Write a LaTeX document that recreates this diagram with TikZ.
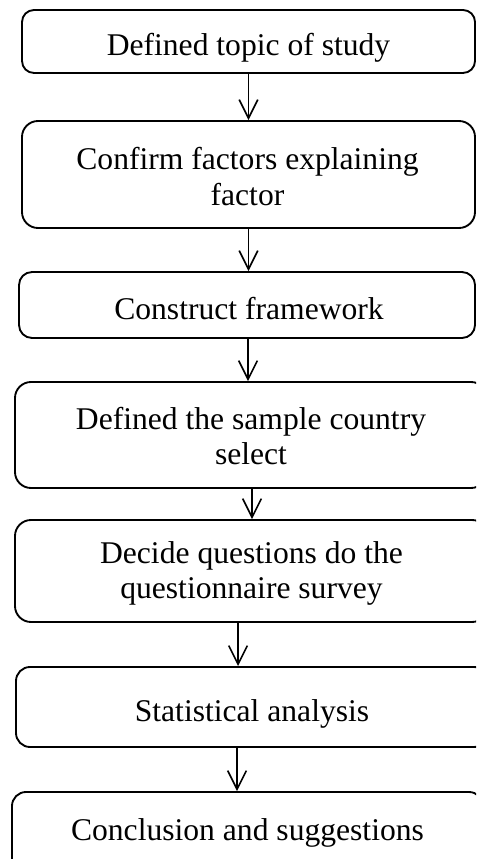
\documentclass[tikz,border=0pt]{standalone}
\usepackage{fontspec}
\setmainfont{Liberation Serif}
\usetikzlibrary{arrows.meta}

\tikzset{
  stepbox/.style={draw, line width=1.4pt, rounded corners=#1, inner sep=0pt},
  steptext/.style={anchor=base, align=center, inner sep=0pt, font=\fontsize{23.7}{26.25}\selectfont},
  flowarrow/.style={line width=1.2pt, -{Straight Barb[length=14pt,width=14pt]}},
}

\begin{document}
\begin{tikzpicture}[x=0.75pt,y=0.75pt,yscale=-1,xscale=1]
\useasboundingbox (0,0) rectangle (476,859);
\clip (0,0) rectangle (476,859);

%Shape: Rounded Rectangles
\node[stepbox=9pt, minimum width=339.75pt, minimum height=47.25pt] (b1) at (248.5,41.5) {};
\node[stepbox=12pt, minimum width=339.75pt, minimum height=80.25pt] (b2) at (248.5,174.5) {};
\node[stepbox=9.75pt, minimum width=342pt, minimum height=49.5pt] (b3) at (247,305) {};
\node[stepbox=12pt, minimum width=354pt, minimum height=79.5pt] (b4) at (251,435) {};
\node[stepbox=12pt, minimum width=354.75pt, minimum height=76.5pt] (b5) at (251.5,571) {};
\node[stepbox=10.5pt, minimum width=354pt, minimum height=60pt] (b6) at (252,707) {};
\node[stepbox=10.5pt, minimum width=353.25pt, minimum height=62.25pt] (b7) at (247.5,833.5) {};

%Straight Lines
\draw[flowarrow] (b1.south) -- (b1.south |- b2.north);
\draw[flowarrow] (b2.south) -- (b2.south |- b3.north);
\draw[flowarrow] ([xshift=0.75pt]b3.south) -- ([xshift=0.75pt]b3.south |- b4.north);
\draw[flowarrow] ([xshift=0.75pt]b4.south) -- ([xshift=0.75pt]b4.south |- b5.north);
\draw[flowarrow] ([xshift=-10.1pt]b5.south) -- ([xshift=-10.1pt]b5.south |- b6.north);
\draw[flowarrow] ([xshift=-11.25pt]b6.south) -- ([xshift=-11.25pt]b6.south |- b7.north);

% Text Node (base = last line)
\node[steptext] (t1) at (248.5,56) {Defined topic of study};
% Text Node
\node[steptext] (t2) at (247.5,205) {Confirm factors explaining\\factor};
% Text Node
\node[steptext] (t3) at (249,319) {Construct framework};
% Text Node
\node[steptext] (t4) at (251,464) {Defined the sample country\\select};
% Text Node
\node[steptext] (t5) at (251.5,598) {Decide questions do the\\questionnaire survey};
% Text Node
\node[steptext] (t6) at (252,721) {Statistical analysis};
% Text Node
\node[steptext] (t7) at (247.5,840) {Conclusion and suggestions};

\end{tikzpicture}
\end{document}
